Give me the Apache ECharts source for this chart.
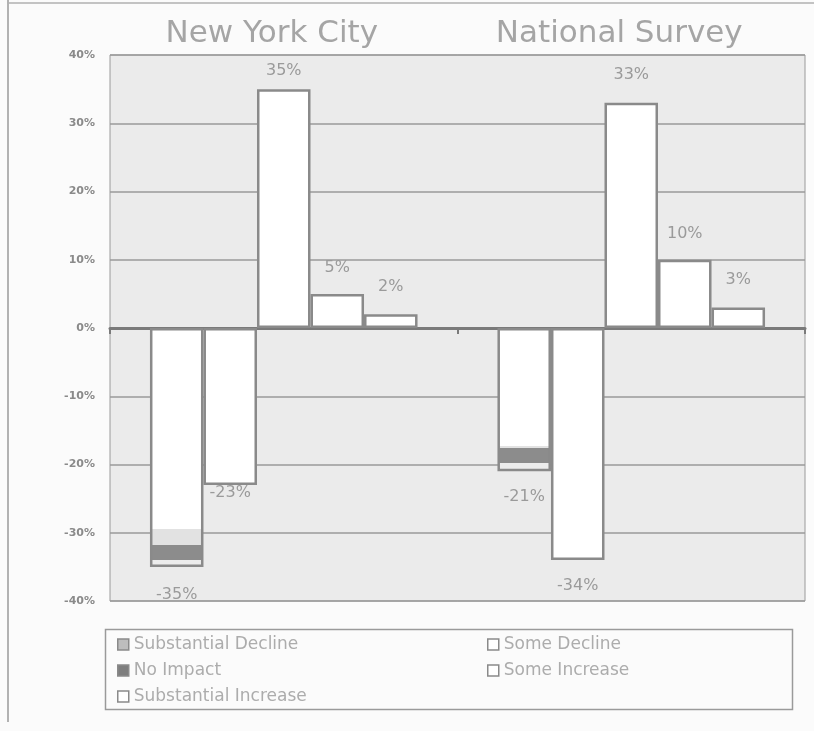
<!DOCTYPE html>
<html>
<head>
<meta charset="utf-8">
<script src="https://cdn.jsdelivr.net/npm/echarts@6/dist/echarts.min.js"></script>
<style>
  html, body { margin: 0; padding: 0; background: #fbfbfb; }
  #chart { width: 814px; height: 731px; }
</style>
</head>
<body>
<div id="chart"></div>
<script>
const categories = ['New York City', 'National Survey']
const seriesNames = ['Substantial Decline', 'Some Decline', 'No Impact', 'Some Increase', 'Substantial Increase']

const substantialDecline = [-35, -21]
const someDecline = [-23, -34]
const noImpact = [35, 33]
const someIncrease = [5, 10]
const substantialIncrease = [2, 3]

const yTicks = [-40, -30, -20, -10, 0, 10, 20, 30, 40]

const edge = '#8a8a8a'
const textGray = '#9a9a9a'

// dark band near the bottom of the substantial decline bars (as in the scan)
function bandFill(a, b, c) {
  return {
    type: 'linear', x: 0, y: 0, x2: 0, y2: 1,
    colorStops: [
      { offset: 0, color: '#ffffff' },
      { offset: a, color: '#ffffff' },
      { offset: a, color: '#e2e2e2' },
      { offset: b, color: '#e2e2e2' },
      { offset: b, color: '#8c8c8c' },
      { offset: c, color: '#8c8c8c' },
      { offset: c, color: '#ececec' },
      { offset: 1, color: '#ececec' }
    ]
  }
}
const declineFills = [bandFill(0.84, 0.91, 0.97), bandFill(0.82, 0.84, 0.94)]

// label distances
const labelDist = {
  'Substantial Decline': [20, 18],
  'Some Decline': [0, 18],
  'No Impact': [10, 20],
  'Some Increase': [18, 18],
  'Substantial Increase': [20, 20]
}

function makeSeries(name, values) {
  return {
    name,
    type: 'bar',
    barGap: 0,
    barCategoryGap: '23%',
    itemStyle: { color: '#ffffff', borderColor: edge, borderWidth: 2.5 },
    data: values.map((v, i) => {
      const item = {
        value: v,
        label: {
          position: v >= 0 ? 'top' : 'bottom',
          distance: labelDist[name][i]
        }
      }
      if (name === 'Substantial Decline') {
        item.itemStyle = { color: declineFills[i] }
      }
      return item
    }),
    label: {
      show: true,
      formatter: '{c}%',
      color: textGray,
      fontSize: 16,
      fontFamily: 'DejaVu Sans'
    }
  }
}

const legendColors = {
  'Substantial Decline': '#bdbdbd',
  'Some Decline': '#ffffff',
  'No Impact': '#7e7e7e',
  'Some Increase': '#ffffff',
  'Substantial Increase': '#ffffff'
}

function legendData(names) {
  return names.map(n => ({
    name: n,
    itemStyle: { color: legendColors[n], borderColor: edge, borderWidth: 1.5 }
  }))
}

const legendCommon = {
  orient: 'vertical',
  top: 631,
  itemWidth: 11,
  itemHeight: 11,
  itemGap: 9,
  icon: 'rect',
  selectedMode: false,
  textStyle: { color: '#acacac', fontSize: 17, fontFamily: 'DejaVu Sans' }
}

const chart = echarts.init(document.getElementById('chart'))

chart.setOption({
  backgroundColor: '#fbfbfb',
  animation: false,
  grid: {
    left: 110, right: 9, top: 55, bottom: 130,
    show: true,
    backgroundColor: '#ebebeb',
    borderColor: '#9a9a9a',
    borderWidth: 1
  },
  legend: [
    { ...legendCommon, left: 112, data: legendData(['Substantial Decline', 'No Impact', 'Substantial Increase']) },
    { ...legendCommon, left: 482, data: legendData(['Some Decline', 'Some Increase']) }
  ],
  xAxis: [
    {
      type: 'category',
      data: categories,
      axisLine: { onZero: true, lineStyle: { color: '#7a7a7a', width: 3 } },
      axisTick: { show: true, length: 6, lineStyle: { color: '#7a7a7a', width: 2 } },
      axisLabel: { show: false }
    },
    {
      type: 'category',
      data: categories,
      position: 'top',
      axisLine: { show: false },
      axisTick: { show: false },
      axisLabel: {
        color: '#a5a5a5',
        fontSize: 31,
        fontFamily: 'DejaVu Sans',
        padding: [0, 24, 0, 0],
        margin: 6
      }
    }
  ],
  yAxis: {
    type: 'value',
    min: yTicks[0],
    max: yTicks[yTicks.length - 1],
    interval: 10,
    axisLine: { show: false },
    axisTick: { show: false },
    axisLabel: {
      formatter: '{value}%',
      color: '#8a8a8a',
      fontSize: 11,
      fontWeight: 'bold',
      fontFamily: 'DejaVu Sans',
      margin: 15
    },
    splitLine: { lineStyle: { color: '#9a9a9a', width: 1.5 } }
  },
  series: [
    makeSeries('Substantial Decline', substantialDecline),
    makeSeries('Some Decline', someDecline),
    makeSeries('No Impact', noImpact),
    makeSeries('Some Increase', someIncrease),
    makeSeries('Substantial Increase', substantialIncrease)
  ],
  graphic: [
    {
      type: 'rect',
      left: 103, top: 627,
      shape: { width: 687, height: 80 },
      style: { fill: 'none', stroke: '#9a9a9a', lineWidth: 1.5 },
      silent: true
    },
    {
      type: 'line',
      shape: { x1: 8, y1: 0, x2: 8, y2: 722 },
      style: { stroke: '#9a9a9a', lineWidth: 1.5 },
      silent: true
    },
    {
      type: 'line',
      shape: { x1: 8, y1: 3, x2: 814, y2: 3 },
      style: { stroke: '#b0b0b0', lineWidth: 1.5 },
      silent: true
    }
  ]
})
</script>
</body>
</html>
